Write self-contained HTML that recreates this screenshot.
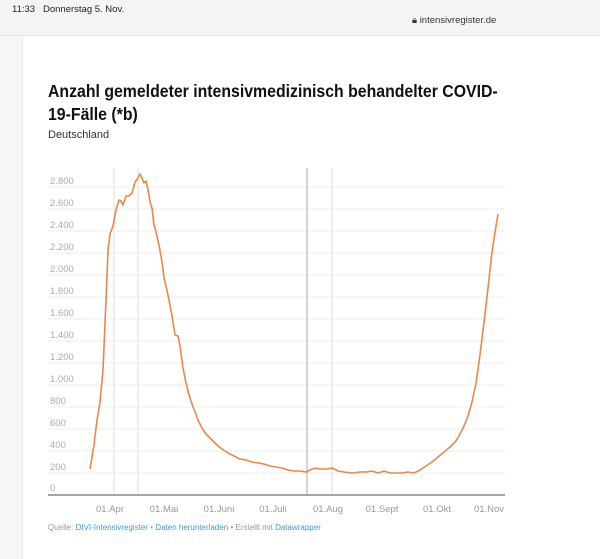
<!DOCTYPE html>
<html><head><meta charset="utf-8"><style>
body{margin:0;width:600px;height:559px;overflow:hidden;background:#fff;font-family:"Liberation Sans",sans-serif;position:relative}
.bar{position:absolute;left:0;top:0;width:600px;height:35px;background:#f4f4f4;border-bottom:1px solid #e4e4e4}
.edge{position:absolute;left:0;top:36px;width:22px;height:523px;background:#f6f6f6;border-right:1px solid #e8e8e8}
.t{position:absolute;white-space:nowrap}
</style></head><body>
<div class="bar"></div><div class="edge"></div>
<div class="t" style="left:12px;top:4px;font-size:9.5px;color:#222">11:33&nbsp;&nbsp; Donnerstag 5. Nov.</div>
<div class="t" style="left:412px;top:15px;font-size:9.5px;color:#333">🔒︎ intensivregister.de</div>
<div class="t" style="left:48px;top:80px;font-size:17.5px;font-weight:bold;color:#111;line-height:23px;transform:scaleX(0.905);transform-origin:0 0">Anzahl gemeldeter intensivmedizinisch behandelter COVID-<br>19-Fälle (*b)</div>
<div class="t" style="left:48px;top:129px;font-size:11px;color:#333">Deutschland</div>
<svg style="position:absolute;left:0;top:0" width="600" height="559">
<g stroke="#ececec" stroke-width="1">
<line x1="48" x2="505" y1="187" y2="187"/><line x1="48" x2="505" y1="209" y2="209"/><line x1="48" x2="505" y1="231" y2="231"/><line x1="48" x2="505" y1="253" y2="253"/><line x1="48" x2="505" y1="275" y2="275"/><line x1="48" x2="505" y1="297" y2="297"/><line x1="48" x2="505" y1="319" y2="319"/><line x1="48" x2="505" y1="341" y2="341"/><line x1="48" x2="505" y1="363" y2="363"/><line x1="48" x2="505" y1="385" y2="385"/><line x1="48" x2="505" y1="407" y2="407"/><line x1="48" x2="505" y1="429" y2="429"/><line x1="48" x2="505" y1="451" y2="451"/><line x1="48" x2="505" y1="473" y2="473"/>
</g>
<g stroke="#dcdcdc"><line x1="114" x2="114" y1="168" y2="495"/><line x1="138" x2="138" y1="168" y2="495"/><line x1="332" x2="332" y1="168" y2="495"/></g>
<line x1="307" x2="307" y1="168" y2="495" stroke="#aaa"/>
<line x1="48" x2="505" y1="495" y2="495" stroke="#888" stroke-width="1.5"/>
<g font-size="9.5" fill="#aaa" font-family="Liberation Sans">
<text x="50" y="184">2.800</text><text x="50" y="206">2.600</text><text x="50" y="228">2.400</text><text x="50" y="250">2.200</text><text x="50" y="272">2.000</text><text x="50" y="294">1.800</text><text x="50" y="316">1.600</text><text x="50" y="338">1.400</text><text x="50" y="360">1.200</text><text x="50" y="382">1.000</text><text x="50" y="404">800</text><text x="50" y="426">600</text><text x="50" y="448">400</text><text x="50" y="470">200</text><text x="50" y="491">0</text>
</g>
<g font-size="9.5" fill="#999" text-anchor="middle">
<text x="110" y="512">01.Apr</text><text x="164" y="512">01.Mai</text><text x="219" y="512">01.Juni</text><text x="273" y="512">01.Juli</text><text x="328" y="512">01.Aug</text><text x="382" y="512">01.Sept</text><text x="437" y="512">01.Okt</text><text x="489" y="512">01.Nov</text>
</g>
<polyline fill="none" stroke="#e8894a" stroke-width="1.6" stroke-linejoin="round" points="90,469 94,445 97,420 100,402 103,370 106,300 108,250 110,234 113,226 116,210 119,200 121,201 123,205 126,196 129,196 132,193 135,182 138,178 140,174 142,178 144,183 146,181 148,190 150,202 152,208 154,225 156,232 159,245 162,262 164,278 166,286 169,300 172,316 175,335 178,336 180,346 183,368 186,383 189,395 192,404 195,412 198,420 202,428 206,434 210,438 214,442 218,446 222,449 228,453 234,456 240,459 246,460 252,462 258,463 264,464 270,466 276,467 282,468 288,470 294,471 300,471 306,472 310,470 315,468 320,469 326,469 332,468 338,471 344,472 352,473 360,472 366,472 372,471 378,473 384,471 390,473 396,473 402,473 408,472 414,473 420,470 426,466 432,462 438,457 444,452 450,447 456,441 460,434 464,426 468,416 472,402 476,383 480,355 484,322 488,288 492,252 496,226 498,214"/>
<text x="48" y="530" font-size="8" fill="#999">Quelle: <tspan fill="#3aa0c8">DIVI-Intensivregister</tspan> • <tspan fill="#3aa0c8">Daten herunterladen</tspan> • Erstellt mit <tspan fill="#3aa0c8">Datawrapper</tspan></text>
</svg>
</body></html>
